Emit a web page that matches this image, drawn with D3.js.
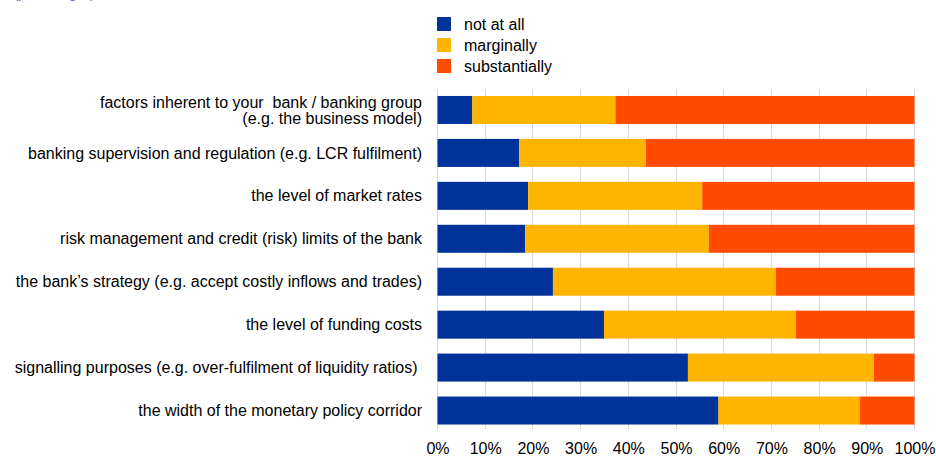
<!DOCTYPE html>
<html>
<head>
<meta charset="utf-8">
<script src="https://cdn.jsdelivr.net/npm/d3@7"></script>
<style>
  html, body { margin: 0; padding: 0; background: #fff; }
  svg { display: block; font-family: "Liberation Sans", Arial, sans-serif; }
</style>
</head>
<body>
<svg id="chart" width="936" height="457"></svg>
<script>
// Survey answers: share of banks for which each factor matters (percentages)
const categories = [
  ["factors inherent to your  bank / banking group", "(e.g. the business model)"],
  ["banking supervision and regulation (e.g. LCR fulfilment)"],
  ["the level of market rates"],
  ["risk management and credit (risk) limits of the bank"],
  ["the bank\u2019s strategy (e.g. accept costly inflows and trades)"],
  ["the level of funding costs"],
  ["signalling purposes (e.g. over-fulfilment of liquidity ratios) "],
  ["the width of the monetary policy corridor"]
];
const seriesNames = ["not at all", "marginally", "substantially"];
const notAtAll      = [7.3, 17.1, 19.0, 18.4, 24.2, 34.9, 52.5, 58.9];
const marginally    = [30.0, 26.6, 36.5, 38.5, 46.7, 40.2, 39.0, 29.6];
const substantially = [62.7, 56.3, 44.5, 43.1, 29.1, 24.9, 8.5, 11.5];
const tickValues = [0, 10, 20, 30, 40, 50, 60, 70, 80, 90, 100];
const colors = ["#003299", "#FFB400", "#FF4B00"];
const fontSize = 16;

const svg = d3.select("#chart");

const rows = categories.map((c, i) => ({
  key: i, label: c,
  "not at all": notAtAll[i],
  "marginally": marginally[i],
  "substantially": substantially[i]
}));

const x = d3.scaleLinear().domain([0, 100]).range([437.5, 914.5]);
const y = d3.scaleBand().domain(rows.map(d => d.key)).range([88.5, 432]).paddingInner(0.348).paddingOuter(0.174);

// caption, mostly above the top edge
svg.append("text").attr("x", 14).attr("y", -2.5).attr("font-size", 13).attr("fill", "#3a5bd0")
  .text("(percentages)");

// vertical grid
svg.append("g").selectAll("line").data(tickValues).join("line")
  .attr("x1", d => x(d)).attr("x2", d => x(d))
  .attr("y1", 89).attr("y2", 428.5)
  .attr("stroke", "#d9d9d9").attr("stroke-width", 1).attr("shape-rendering", "crispEdges");

// stacked bars
const stack = d3.stack().keys(seriesNames)(rows);
svg.append("g").selectAll("g").data(stack).join("g")
  .attr("fill", (d, i) => colors[i])
  .selectAll("rect").data(d => d).join("rect")
  .attr("x", d => x(d[0]))
  .attr("width", d => x(d[1]) - x(d[0]))
  .attr("y", d => y(d.data.key))
  .attr("height", y.bandwidth());

// category labels
const labels = svg.append("g").attr("font-size", fontSize).attr("fill", "#000").attr("text-anchor", "end");
rows.forEach(r => {
  const n = r.label.length;
  const cy = y(r.key) + y.bandwidth() / 2;
  r.label.forEach((line, j) => {
    labels.append("text")
      .attr("x", 422)
      .attr("y", cy + (j - (n - 1) / 2) * 16)
      .attr("dy", "0.35em")
      .style("white-space", "pre")
      .text(line);
  });
});

// x axis tick labels
const xAxis = d3.axisBottom(x).tickValues(tickValues).tickFormat(d => d + "%").tickSize(0).tickPadding(0);
const ax = svg.append("g").attr("transform", "translate(0,443)").call(xAxis);
ax.select(".domain").remove();
ax.selectAll("text").attr("font-size", fontSize).attr("fill", "#000")
  .attr("font-family", "Liberation Sans, Arial, sans-serif").attr("dy", "0.71em");

// legend
const legend = svg.append("g");
seriesNames.forEach((name, i) => {
  const g = legend.append("g").attr("transform", `translate(437,${17 + i * 21})`);
  g.append("rect").attr("width", 14).attr("height", 14).attr("fill", colors[i]);
  g.append("text").attr("x", 27).attr("y", 7).attr("dy", "0.35em")
    .attr("font-size", fontSize).attr("fill", "#000").text(name);
});
</script>
</body>
</html>
